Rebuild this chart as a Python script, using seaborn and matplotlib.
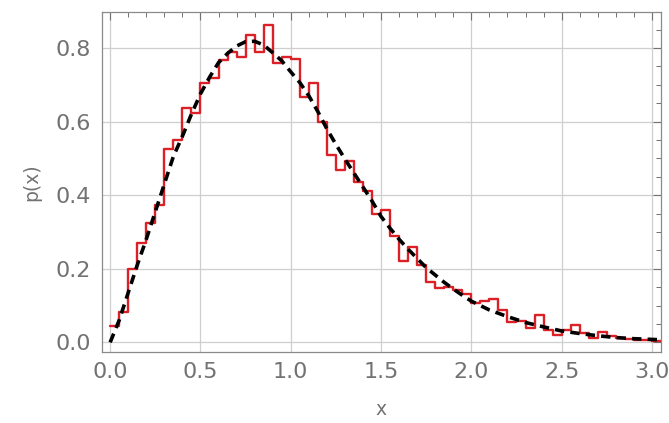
import numpy as np
import pandas as pd
import matplotlib
matplotlib.use("Agg")
import matplotlib.pyplot as plt
from matplotlib.ticker import MultipleLocator
import seaborn as sns

# histogram, bin width 0.05 from 0 to 3.05
bin_width = 0.05
hist_heights = [
    0.045, 0.083, 0.200, 0.271, 0.323, 0.372, 0.526, 0.550, 0.638, 0.623,
    0.706, 0.719, 0.767, 0.788, 0.775, 0.835, 0.790, 0.862, 0.758, 0.776,
    0.769, 0.666, 0.705, 0.598, 0.508, 0.467, 0.492, 0.437, 0.410, 0.349,
    0.360, 0.288, 0.221, 0.258, 0.209, 0.163, 0.148, 0.151, 0.141, 0.132,
    0.106, 0.113, 0.118, 0.088, 0.054, 0.058, 0.040, 0.073, 0.034, 0.020,
    0.033, 0.046, 0.025, 0.013, 0.029, 0.016, 0.011, 0.010, 0.007, 0.006,
    0.004,
]

# density curve
curve_x = [0.0, 0.05, 0.1, 0.15, 0.2, 0.25, 0.3, 0.35, 0.4, 0.45, 0.5, 0.55,
           0.6, 0.65, 0.7, 0.75, 0.8, 0.85, 0.9, 0.95, 1.0, 1.05, 1.1, 1.15,
           1.2, 1.25, 1.3, 1.35, 1.4, 1.45, 1.5, 1.55, 1.6, 1.65, 1.7, 1.75,
           1.8, 1.85, 1.9, 1.95, 2.0, 2.1, 2.2, 2.3, 2.4, 2.5, 2.6, 2.7, 2.8,
           2.9, 3.0, 3.05]
curve_y = [0.0, 0.06, 0.135, 0.21, 0.28, 0.355, 0.43, 0.505, 0.56, 0.62, 0.675,
           0.72, 0.76, 0.785, 0.805, 0.817, 0.818, 0.808, 0.787, 0.765, 0.735,
           0.706, 0.67, 0.627, 0.58, 0.538, 0.498, 0.46, 0.422, 0.384, 0.342,
           0.31, 0.28, 0.253, 0.228, 0.203, 0.183, 0.163, 0.145, 0.128, 0.112,
           0.088, 0.07, 0.054, 0.042, 0.031, 0.024, 0.018, 0.013, 0.01, 0.008,
           0.007]

n_bins = len(hist_heights)
hist_df = pd.DataFrame({"x": (np.arange(n_bins) + 0.5) * bin_width,
                        "p": hist_heights})

sns.set_style("white")
plt.rcParams['font.family'] = ['DejaVu Sans']

grey = "#727272"
fig, ax = plt.subplots(figsize=(6.69, 4.23), dpi=100)
fig.subplots_adjust(left=0.1525, right=0.988, top=0.972, bottom=0.168)

sns.histplot(data=hist_df, x="x", weights="p", binwidth=bin_width,
             binrange=(0, n_bins * bin_width), element="step",
             fill=False, color="#dc2028", linewidth=1.7, ax=ax, zorder=2)
sns.lineplot(x=curve_x, y=curve_y, color="black", linewidth=2.6, ax=ax, zorder=3)
ax.lines[-1].set_dashes((2.6, 1.7))

ax.set_xlim(-0.045, 3.05)
ax.set_ylim(-0.026, 0.898)
ax.xaxis.set_major_locator(MultipleLocator(0.5))
ax.xaxis.set_minor_locator(MultipleLocator(0.1))
ax.yaxis.set_major_locator(MultipleLocator(0.2))
ax.yaxis.set_minor_locator(MultipleLocator(0.05))
ax.grid(True, which="major", color="#cfcfcf", linewidth=0.9, zorder=0)
ax.set_axisbelow(True)

ax.tick_params(which="both", direction="in", top=True, right=True,
               colors=grey, labelcolor=grey, labelsize=16)
ax.tick_params(which="major", length=6, width=0.8)
ax.tick_params(which="minor", length=3.5, width=0.7)
ax.tick_params(axis="y", which="major", pad=8)
ax.tick_params(axis="x", which="major", pad=7)
for side in ax.spines.values():
    side.set_color("#8a8a8a")
    side.set_linewidth(0.9)

ax.set_xlabel("x", color=grey, fontsize=13.5, labelpad=13)
ax.set_ylabel("p(x)", color=grey, fontsize=13.5, labelpad=10)

fig.savefig("out.png", dpi=100)
